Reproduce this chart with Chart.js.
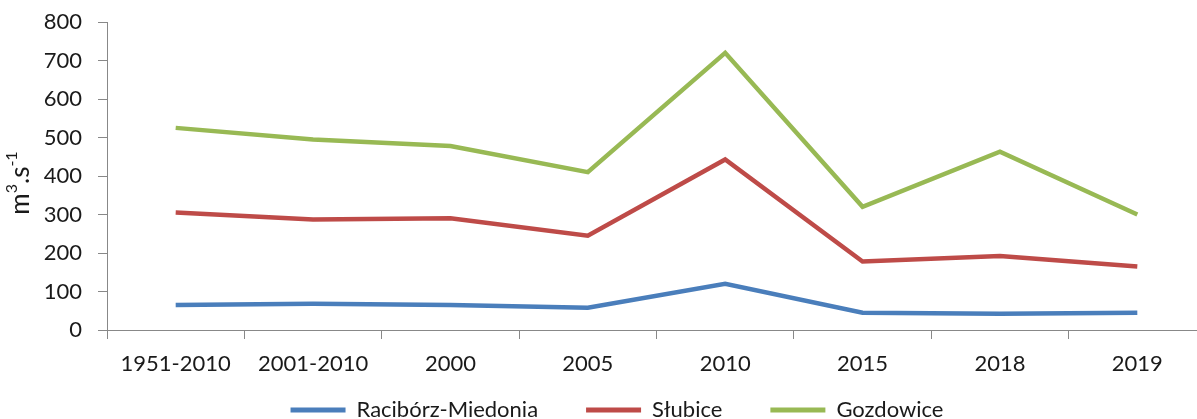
<!DOCTYPE html>
<html>
<head>
<meta charset="utf-8">
<script src="https://cdn.jsdelivr.net/npm/chart.js@4/dist/chart.umd.min.js"></script>
<style>
html,body{margin:0;padding:0;background:#fff;overflow:hidden;}
#wrap{position:relative;width:1206px;height:464px;}
</style>
</head>
<body>
<div id="wrap"><canvas id="c"></canvas></div>
<script>
const categories = ["1951-2010","2001-2010","2000","2005","2010","2015","2018","2019"];
const raciborz = [65, 68, 65, 58, 120, 45, 42, 45];
const slubice = [305, 287, 290, 245, 443, 178, 192, 165];
const gozdowice = [525, 495, 478, 410, 720, 320, 463, 300];
const seriesNames = ["Racibórz-Miedonia","Słubice","Gozdowice"];
const yTicks = [0,100,200,300,400,500,600,700,800];
const yTitleParts = [["m", false], ["3", true], [".s", false], ["-1", true]];

const FONT = "Lato, 'Open Sans', sans-serif";
const TXT = '#1a1a1a';
const mk = (label, data, color) => ({label, data, borderColor: color, backgroundColor: color,
  borderWidth: 4.5, pointRadius: 0, tension: 0, fill: false});

const yTitlePlugin = {
  id: 'yTitle',
  afterDraw(chart) {
    const ctx = chart.ctx;
    const big = "26px " + FONT, small = "16px " + FONT;
    ctx.save();
    let total = 0;
    yTitleParts.forEach(([t, sup]) => { ctx.font = sup ? small : big; total += ctx.measureText(t).width; });
    ctx.translate(20, 183);
    ctx.rotate(-Math.PI / 2);
    ctx.fillStyle = TXT;
    ctx.textBaseline = 'alphabetic';
    let x = -total / 2;
    yTitleParts.forEach(([t, sup]) => {
      ctx.font = sup ? small : big;
      ctx.fillText(t, x, sup ? -3 : 9);
      x += ctx.measureText(t).width;
    });
    ctx.restore();
  }
};

// Move the legend box up (and slightly right) so it sits close under the axis labels
const legendShift = {
  id: 'legendShift',
  afterLayout(chart) {
    const lg = chart.legend;
    if (lg) { lg.top -= 33; lg.bottom -= 33; lg.left += 14; lg.right += 14; }
  }
};

new Chart(document.getElementById('c'), {
  type: 'line',
  data: {
    labels: categories,
    datasets: [
      mk(seriesNames[0], raciborz, '#4a7ebb'),
      mk(seriesNames[1], slubice, '#be4b48'),
      mk(seriesNames[2], gozdowice, '#98b954')
    ]
  },
  plugins: [yTitlePlugin, legendShift],
  options: {
    responsive: true,
    maintainAspectRatio: false,
    animation: false,
    layout: {padding: {top: 22, right: 0, left: 0, bottom: 0}},
    plugins: {
      tooltip: {enabled: false},
      legend: {
        position: 'bottom',
        labels: {
          font: {family: FONT, size: 22},
          color: TXT,
          boxWidth: 55,
          boxHeight: 5,
          padding: 48,
          generateLabels: (chart) => Chart.defaults.plugins.legend.labels.generateLabels(chart)
            .map(l => Object.assign(l, {lineWidth: 0}))
        }
      }
    },
    scales: {
      x: {
        offset: true,
        grid: {display: true, drawOnChartArea: false, offset: true, tickLength: 9, color: '#888'},
        border: {color: '#888'},
        ticks: {font: {family: FONT, size: 22}, color: TXT, padding: 12, maxRotation: 0, autoSkip: false},
        afterFit: (s) => { s.height = 54; }
      },
      y: {
        min: 0, max: 800,
        afterBuildTicks: (s) => { s.ticks = yTicks.map(v => ({value: v})); },
        grid: {display: true, drawOnChartArea: false, tickLength: 9, color: '#888'},
        border: {color: '#888'},
        ticks: {font: {family: FONT, size: 22}, color: TXT, padding: 16},
        afterFit: (s) => { s.width = 107; s.paddingTop = 0; s.paddingBottom = 0; }
      }
    }
  }
});
</script>
</body>
</html>
